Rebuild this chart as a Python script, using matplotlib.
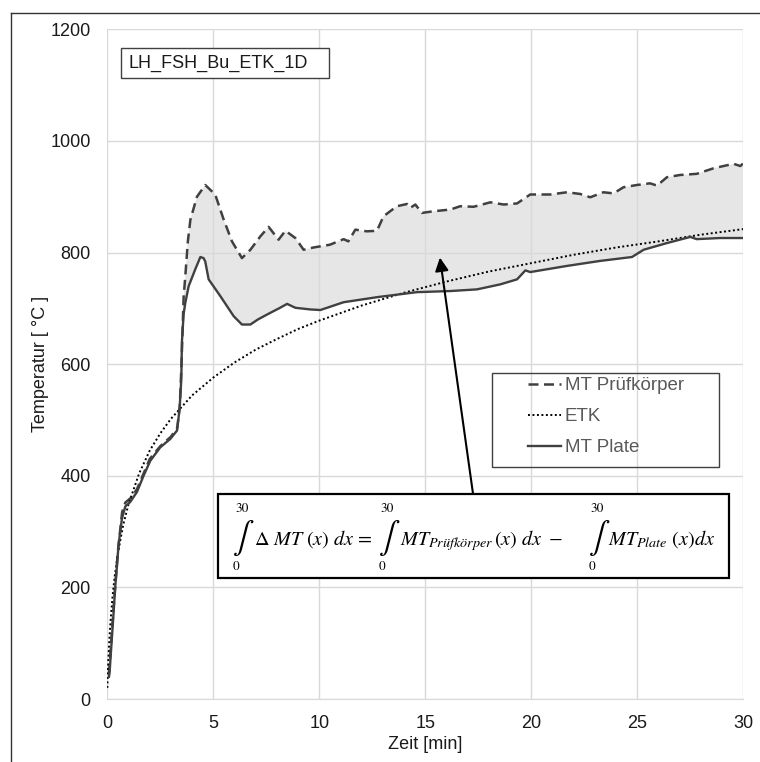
import matplotlib
matplotlib.use("Agg")
import matplotlib.pyplot as plt
from matplotlib.patches import Rectangle
from matplotlib.lines import Line2D

plt.rcParams["font.family"] = ["Liberation Sans", "DejaVu Sans"]
plt.rcParams["mathtext.fontset"] = "stix"

# ETK (Einheits-Temperaturzeitkurve)
etk_t = [0, 0.05, 0.1, 0.15, 0.25, 0.35, 0.5, 0.75, 1, 1.5, 2, 2.5, 3, 4, 5, 6, 7, 8,
         9, 10, 12, 14, 16, 18, 20, 22, 24, 26, 28, 30]
etk_T = [20, 70, 108, 138, 185, 220, 261, 312, 349, 404, 445, 476, 502, 544, 576, 603,
         626, 645, 663, 678, 705, 728, 748, 766, 781, 796, 809, 820, 832, 842]

# MT Plate (solid)
plate_t = [0.08, 0.11, 0.3, 0.38, 0.46, 0.53, 0.69, 0.85, 1.08, 1.4, 1.71, 2.03, 2.5,
           2.97, 3.29, 3.41, 3.49, 3.52, 3.6, 3.68, 3.84, 4.15, 4.39, 4.54, 4.62, 4.78,
           5.33, 5.96, 6.35, 6.75, 7.1, 7.69, 8.1, 8.48, 8.87, 9.58, 10.05, 11.15, 12.72,
           14.6, 16.18, 17.44, 18.54, 19.33, 19.72, 19.95, 21.68, 23.25, 24.75, 25.3,
           26.4, 27.5, 27.8, 28.9, 30]
plate_T = [40, 49, 157, 204, 240, 276, 323, 345, 353, 371, 400, 427, 451, 466, 481, 520,
           573, 640, 690, 710, 740, 770, 792, 790, 784, 752, 722, 686, 671, 671, 680, 692,
           700, 708, 701, 698, 697, 711, 720, 729, 731, 734, 743, 752, 768, 765, 776, 785,
           792, 805, 817, 828, 824, 826, 826]

# MT Prüfkörper (dashed)
probe_t = [0.08, 0.3, 0.5, 0.7, 0.85, 1.1, 1.4, 1.7, 2.0, 2.5, 3.0, 3.3, 3.42, 3.5, 3.6,
           3.68, 3.8, 3.92, 4.23, 4.62, 5.09, 5.49, 5.88, 6.35, 6.75, 7.22, 7.61, 8.08,
           8.4, 8.87, 9.26, 9.72, 10.5, 11.15, 11.37, 11.7, 12.25, 12.72, 13.03, 13.66,
           14.14, 14.29, 14.53, 14.84, 15.4, 16.18, 16.65, 17.28, 18.07, 18.7, 19.33,
           19.95, 20.9, 21.68, 22.3, 22.78, 23.4, 23.88, 24.35, 24.98, 25.6, 25.93, 26.4,
           27.03, 27.8, 28.6, 29.54, 29.86, 30]
probe_T = [45, 165, 265, 335, 352, 360, 376, 403, 430, 453, 470, 486, 525, 600, 720, 758,
           820, 859, 900, 921, 904, 859, 820, 790, 805, 829, 846, 823, 839, 826, 805, 809,
           814, 824, 820, 841, 838, 839, 865, 883, 887, 880, 886, 871, 874, 877, 883, 882,
           890, 886, 888, 904, 904, 908, 905, 899, 908, 906, 917, 921, 924, 920, 935, 939,
           941, 951, 959, 955, 960]

x_ticks = [0, 5, 10, 15, 20, 25, 30]
y_ticks = [0, 200, 400, 600, 800, 1000, 1200]

W, H = 760, 762


def fpos(px, py):
    """pixel (from top left) -> figure fraction"""
    return px / W, 1 - py / H


fig = plt.figure(figsize=(W / 100, H / 100), dpi=100)
ax = fig.add_axes([107.3 / W, 1 - 699 / H, 636 / W, 669.7 / H])

line_col = "#404040"
ax.fill(probe_t + plate_t[::-1], probe_T + plate_T[::-1], color="#e6e6e6", lw=0, zorder=0.3)
ax.plot(probe_t, probe_T, color=line_col, lw=1.8, linestyle=(0, (4, 2.2)),
        label="MT Prüfkörper", zorder=3)
ax.plot(etk_t, etk_T, color="black", lw=1.4, linestyle=(0, (1, 1.3)), label="ETK", zorder=3)
ax.plot(plate_t, plate_T, color=line_col, lw=1.7, label="MT Plate", zorder=3)

ax.set_xlim(0, 30)
ax.set_ylim(0, 1200)
ax.set_xticks(x_ticks)
ax.set_yticks(y_ticks)
ax.set_axisbelow(True)
ax.grid(True, color="#d9d9d9", lw=1)
for s in ["top", "right", "left"]:
    ax.spines[s].set_visible(False)
ax.spines["bottom"].set_color("#d9d9d9")
ax.tick_params(length=0, labelsize=13, labelcolor="#1a1a1a")
ax.tick_params(axis="y", pad=12)
ax.tick_params(axis="x", pad=11.5)
ax.set_xlabel("Zeit [min]", fontsize=13, color="#1a1a1a", labelpad=3)
ax.set_ylabel("Temperatur [ °C ]", fontsize=13, color="#1a1a1a", labelpad=1)

# legend without its own frame, box drawn separately
leg = ax.legend(loc="upper left", bbox_to_anchor=fpos(528, 377), bbox_transform=fig.transFigure,
                frameon=False, fontsize=13.5, handlelength=1.75, handletextpad=0.2,
                labelspacing=0.75, borderpad=0, borderaxespad=0, labelcolor="#595959")
fig.add_artist(Rectangle(fpos(492, 467), 227 / W, 94 / H, transform=fig.transFigure,
                         fill=False, ec="#404040", lw=1, zorder=5))

# name box
fig.add_artist(Rectangle(fpos(120.7, 78.3), 208.6 / W, 30 / H, transform=fig.transFigure,
                         fill=True, fc="white", ec="#404040", lw=1, zorder=5))
fig.text(*fpos(129, 63.5), "LH_FSH_Bu_ETK_1D", fontsize=13, va="center", ha="left",
         color="#1a1a1a", zorder=6)

# arrow pointing into the shaded area
ax.annotate("", xy=(15.69, 791), xytext=(17.25, 368),
            arrowprops=dict(arrowstyle="-|>", mutation_scale=20, lw=1.5, color="black",
                            shrinkA=0, shrinkB=0), zorder=4)

# formula box
fig.add_artist(Rectangle(fpos(218.3, 578.3), 510.7 / W, 84 / H, transform=fig.transFigure,
                         fill=True, fc="white", ec="black", lw=1.6, zorder=5))
base_y = 545
fsize = 14.5
for ix in [232, 377.5, 587.5]:
    fig.text(*fpos(ix, 538.5), r"$\int$", fontsize=23, ha="left", va="center", zorder=6)
    fig.text(*fpos(ix + 3, 509), "30", fontsize=9.5, family="STIXGeneral", ha="left",
             va="center", zorder=6)
    fig.text(*fpos(ix + 1, 567.5), "0", fontsize=9.5, family="STIXGeneral", ha="left",
             va="center", zorder=6)
fig.text(*fpos(254.5, base_y), r"$\Delta\ MT\ (x)\ dx\, =$", fontsize=fsize,
         va="baseline", ha="left", zorder=6)
fig.text(*fpos(399.5, base_y), r"$MT_{Prüfkörper}\,(x)\ dx\ -$", fontsize=fsize,
         va="baseline", ha="left", zorder=6)
fig.text(*fpos(608, base_y), r"$MT_{Plate}\ (x)dx$", fontsize=fsize, va="baseline",
         ha="left", zorder=6)

# outer frame (left and top edges visible)
fig.add_artist(Line2D([10.5 / W, 10.5 / W], [1 - 13 / H, 0], transform=fig.transFigure,
                      color="#333333", lw=1))
fig.add_artist(Line2D([10.5 / W, 1], [1 - 13 / H, 1 - 13 / H], transform=fig.transFigure,
                      color="#333333", lw=1))

fig.savefig("out.png", dpi=100)
